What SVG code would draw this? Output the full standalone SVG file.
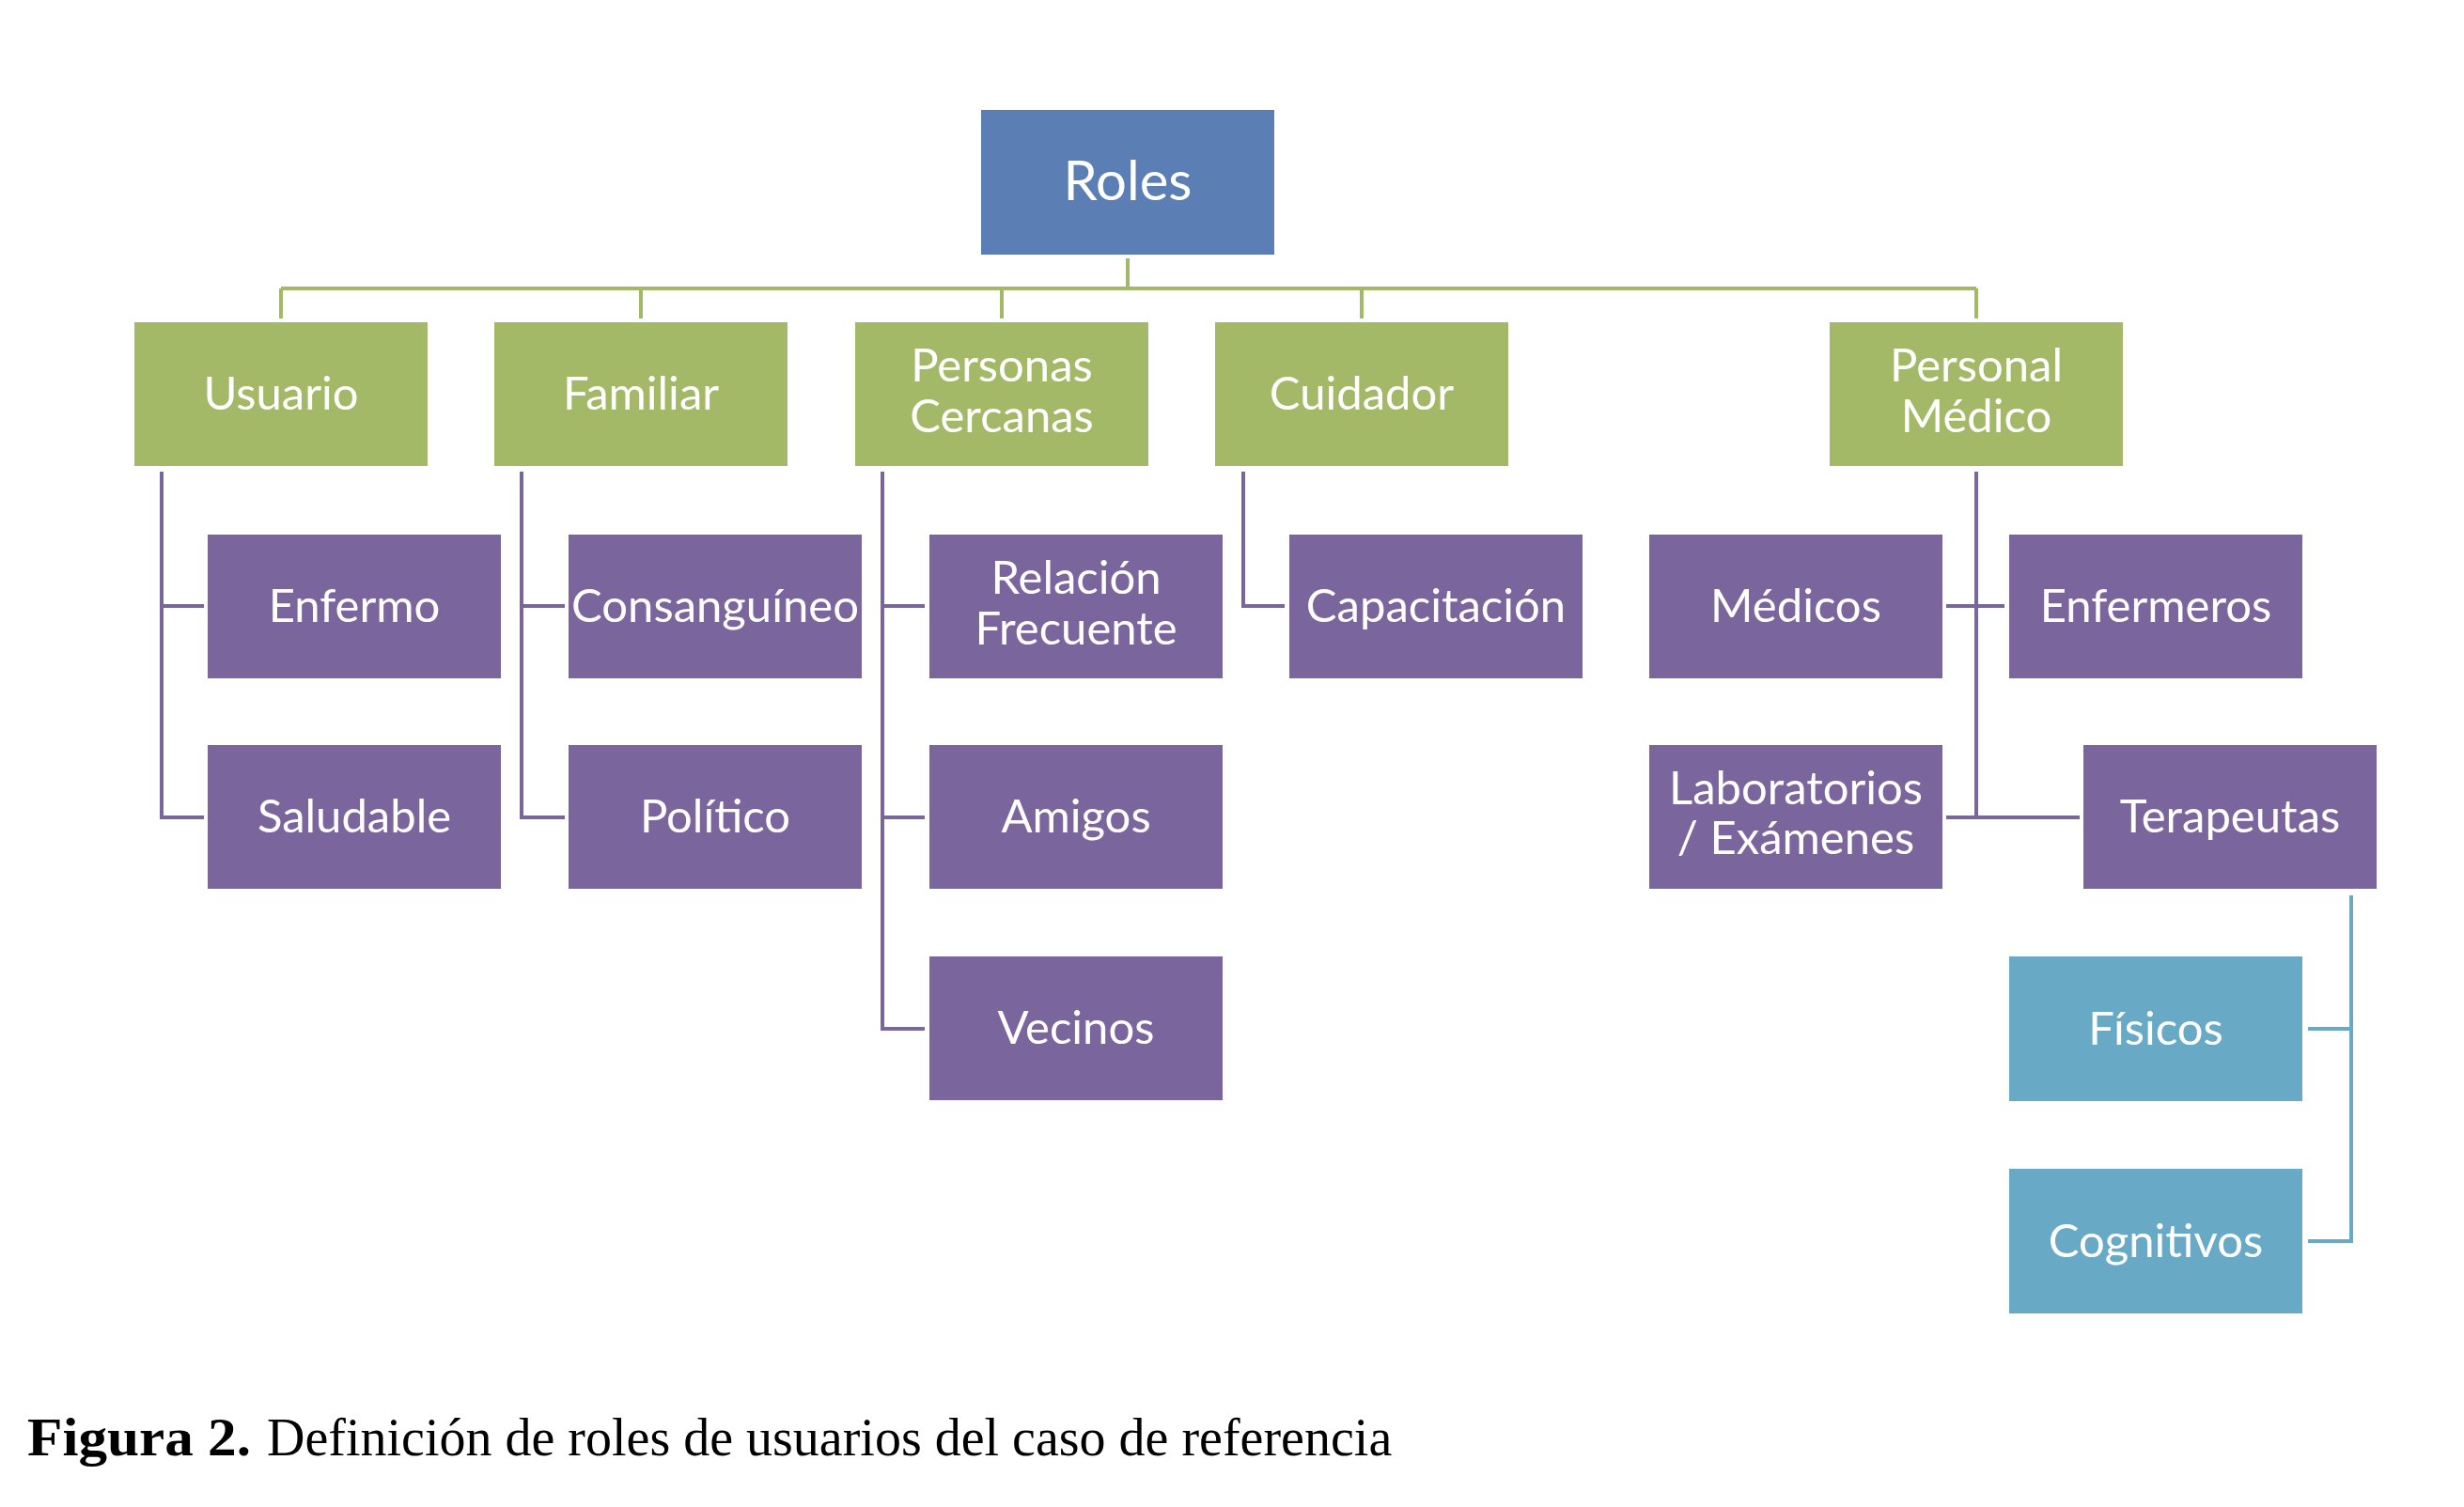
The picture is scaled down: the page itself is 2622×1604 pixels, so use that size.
<svg xmlns="http://www.w3.org/2000/svg" width="2622" height="1604" viewBox="0 0 2622 1604">
<style>
.root{fill:#5B7FB5}
.lvl1{fill:#A3B967}
.lvl2{fill:#7B659D}
.lvl3{fill:#68AAC5}
.lbl{font-family:Lato,"Open Sans","Liberation Sans",sans-serif;fill:#FFFFFF;text-anchor:middle;font-size:49px}
.big{font-size:58px}
.cg{fill:none;stroke:#A3B967;stroke-width:4}
.cp{fill:none;stroke:#7B659D;stroke-width:4}
.cb{fill:none;stroke:#68AAC5;stroke-width:4}
.cap{font-family:"Liberation Serif","Times New Roman",serif;fill:#000000}
</style>
<rect width="2622" height="1604" fill="#FFFFFF"/>
<g id="connectors">
  <path class="cg" d="M1200,275 V307 M299,307 H2103 M299,307 V339 M682,307 V339 M1066,307 V339 M1449,307 V339 M2103,307 V339"/>
  <path class="cp" d="M172,502 V870 H217 M172,645 H217"/>
  <path class="cp" d="M555,502 V870 H601 M555,645 H601"/>
  <path class="cp" d="M939,502 V1095 H984 M939,645 H984 M939,870 H984"/>
  <path class="cp" d="M1323,502 V645 H1367"/>
  <path class="cp" d="M2103,502 V870 M2071,645 H2133 M2071,870 H2213"/>
  <path class="cb" d="M2502,953 V1321 H2456 M2456,1095 H2502"/>
</g>
<g id="roles"><rect class="root" x="1044" y="117" width="312" height="154"/><text class="lbl big" x="1200" y="213">Roles</text></g>
<g id="usuario"><rect class="lvl1" x="143" y="343" width="312" height="153"/><text class="lbl" x="299" y="436">Usuario</text></g>
<g id="familiar"><rect class="lvl1" x="526" y="343" width="312" height="153"/><text class="lbl" x="682" y="436">Familiar</text></g>
<g id="personas-cercanas"><rect class="lvl1" x="910" y="343" width="312" height="153"/><text class="lbl" x="1066" y="406">Personas</text><text class="lbl" x="1066" y="460">Cercanas</text></g>
<g id="cuidador"><rect class="lvl1" x="1293" y="343" width="312" height="153"/><text class="lbl" x="1449" y="436">Cuidador</text></g>
<g id="personal-medico"><rect class="lvl1" x="1947" y="343" width="312" height="153"/><text class="lbl" x="2103" y="406">Personal</text><text class="lbl" x="2103" y="460">Médico</text></g>
<g id="enfermo"><rect class="lvl2" x="221" y="569" width="312" height="153"/><text class="lbl" x="377" y="662">Enfermo</text></g>
<g id="saludable"><rect class="lvl2" x="221" y="793" width="312" height="153"/><text class="lbl" x="377" y="886">Saludable</text></g>
<g id="consanguineo"><rect class="lvl2" x="605" y="569" width="312" height="153"/><text class="lbl" x="761" y="662">Consanguíneo</text></g>
<g id="politico"><rect class="lvl2" x="605" y="793" width="312" height="153"/><text class="lbl" x="761" y="886">Político</text></g>
<g id="relacion-frecuente"><rect class="lvl2" x="989" y="569" width="312" height="153"/><text class="lbl" x="1145" y="632">Relación</text><text class="lbl" x="1145" y="686">Frecuente</text></g>
<g id="amigos"><rect class="lvl2" x="989" y="793" width="312" height="153"/><text class="lbl" x="1145" y="886">Amigos</text></g>
<g id="vecinos"><rect class="lvl2" x="989" y="1018" width="312" height="153"/><text class="lbl" x="1145" y="1111">Vecinos</text></g>
<g id="capacitacion"><rect class="lvl2" x="1372" y="569" width="312" height="153"/><text class="lbl" x="1528" y="662">Capacitación</text></g>
<g id="medicos"><rect class="lvl2" x="1755" y="569" width="312" height="153"/><text class="lbl" x="1911" y="662">Médicos</text></g>
<g id="laboratorios"><rect class="lvl2" x="1755" y="793" width="312" height="153"/><text class="lbl" x="1911" y="856">Laboratorios</text><text class="lbl" x="1911" y="909">/ Exámenes</text></g>
<g id="enfermeros"><rect class="lvl2" x="2138" y="569" width="312" height="153"/><text class="lbl" x="2294" y="662">Enfermeros</text></g>
<g id="terapeutas"><rect class="lvl2" x="2217" y="793" width="312" height="153"/><text class="lbl" x="2373" y="886">Terapeutas</text></g>
<g id="fisicos"><rect class="lvl3" x="2138" y="1018" width="312" height="154"/><text class="lbl" x="2294" y="1112">Físicos</text></g>
<g id="cognitivos"><rect class="lvl3" x="2138" y="1244" width="312" height="154"/><text class="lbl" x="2294" y="1338">Cognitivos</text></g>
<g id="caption">
  <text class="cap" x="29" y="1549" font-size="57" font-weight="bold" textLength="238" lengthAdjust="spacingAndGlyphs">Figura 2.</text>
  <text class="cap" x="284" y="1549" font-size="56">Definición de roles de usuarios del caso de referencia</text>
</g>
</svg>
